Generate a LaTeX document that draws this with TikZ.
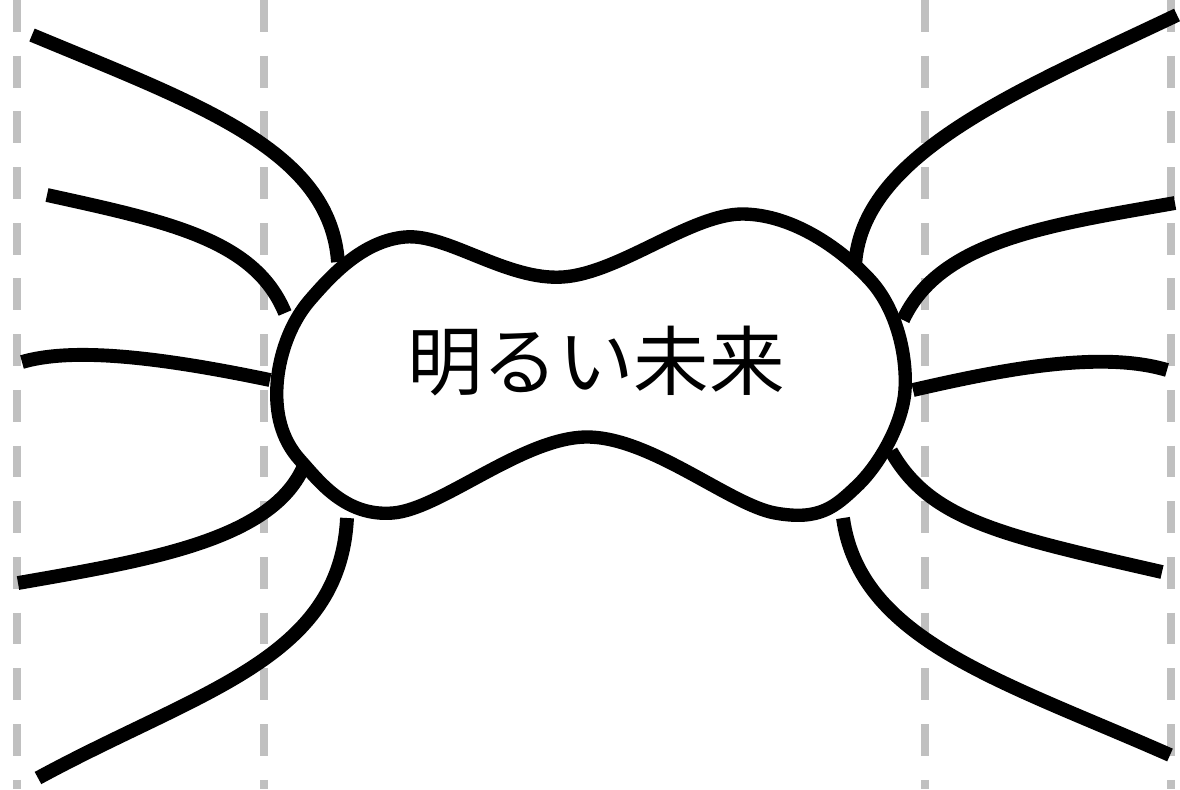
\documentclass[tikz,border=0pt]{standalone}
\usepackage{fontspec}
\newfontfamily\jpfont{Noto Sans CJK JP}
\usepackage{tikz}
\usetikzlibrary{positioning,calc}
\usepackage{xcolor}
\definecolor{guidegray}{RGB}{192,192,192}

\begin{document}
\begin{tikzpicture}[x=0.02cm,y=-0.02cm,
    branch/.style={line width=7.9pt,black},
    blobline/.style={line width=7.6pt,black,fill=white},
    guide/.style={guidegray,line width=4.5pt,dash pattern=on 18.1pt off 13.6pt}]
        \useasboundingbox (0,0) rectangle (1180,789);
        % dashed guides
        \foreach \gx in {17,264,925,1171}
          \draw[guide] (\gx,0) -- (\gx,789);
        % left branches
        \coordinate (la1) at (32,35);   \coordinate (lb1) at (338,262);
        \coordinate (la2) at (47,195);  \coordinate (lb2) at (285,313);
        \coordinate (la3) at (22,362);  \coordinate (lb3) at (270,380);
        \coordinate (la4) at (18,583);  \coordinate (lb4) at (303,468);
        \coordinate (la5) at (38,778);  \coordinate (lb5) at (347,518);
        \draw[branch] (la1) .. controls (200,105) and (330,150) .. (lb1);
        \draw[branch] (la2) .. controls (170,222) and (255,240) .. (lb2);
        \draw[branch] (la3) .. controls (70,348) and (150,355) .. (lb3);
        \draw[branch] (la4) .. controls (150,560) and (270,540) .. (lb4);
        \draw[branch] (la5) .. controls (200,690) and (340,660) .. (lb5);
        % right branches
        \coordinate (ra1) at (1177,15);  \coordinate (rb1) at (855,267);
        \coordinate (ra2) at (1175,203); \coordinate (rb2) at (903,320);
        \coordinate (ra3) at (1167,370); \coordinate (rb3) at (913,390);
        \coordinate (ra4) at (1162,572); \coordinate (rb4) at (891,451);
        \coordinate (ra5) at (1170,755); \coordinate (rb5) at (843,518);
        \draw[branch] (ra1) .. controls (1015,92) and (860,155) .. (rb1);
        \draw[branch] (ra2) .. controls (1050,225) and (940,240) .. (rb2);
        \draw[branch] (rb3) .. controls (1000,370) and (1100,350) .. (ra3);
        \draw[branch] (rb4) .. controls (930,520) and (1000,535) .. (ra4);
        \draw[branch] (rb5) .. controls (860,640) and (1000,680) .. (ra5);
        % the blob
        \draw[blobline] plot[smooth cycle,tension=0.6] coordinates {
          (277,385) (310,300) (405,237) (563,277) (743,214) (870,280)
          (905,390) (857,486) (775,513) (587,437) (393,513) (300,460)};
        \node[font=\jpfont\fontsize{43}{43}\selectfont,inner sep=0pt] (future) at (596,361) {明るい未来};
      \end{tikzpicture}
\end{document}
